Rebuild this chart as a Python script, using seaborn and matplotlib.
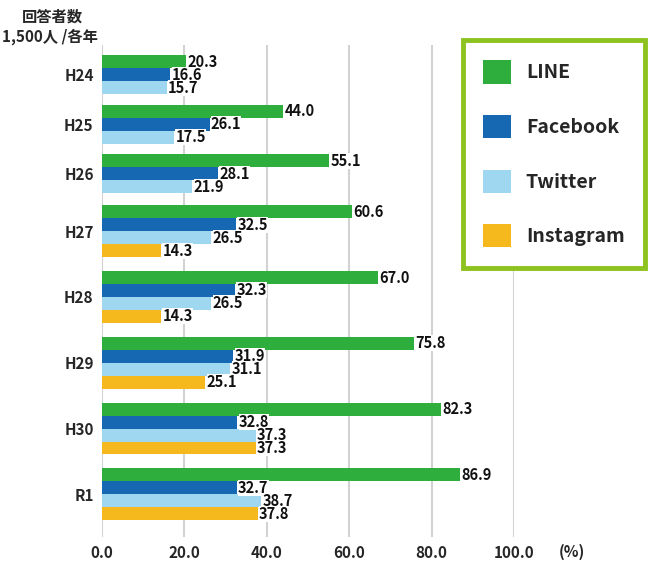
import matplotlib
matplotlib.use("Agg")
import matplotlib.pyplot as plt
import pandas as pd
import seaborn as sns

years = ["H24", "H25", "H26", "H27", "H28", "H29", "H30", "R1"]
series = ["LINE", "Facebook", "Twitter", "Instagram"]
line_vals = [20.3, 44.0, 55.1, 60.6, 67.0, 75.8, 82.3, 86.9]
facebook_vals = [16.6, 26.1, 28.1, 32.5, 32.3, 31.9, 32.8, 32.7]
twitter_vals = [15.7, 17.5, 21.9, 26.5, 26.5, 31.1, 37.3, 38.7]
instagram_vals = [None, None, None, 14.3, 14.3, 25.1, 37.3, 37.8]
x_ticks = [0, 20, 40, 60, 80, 100]

colors = {
    "LINE": "#2eae3c",
    "Facebook": "#1668b3",
    "Twitter": "#9fd6f0",
    "Instagram": "#f5b91e",
}

sns.set_theme(style="white")
plt.rcParams["font.family"] = ["Noto Sans CJK JP", "DejaVu Sans"]
plt.rcParams["font.weight"] = "bold"

# build long table, bars of one year stacked tightly, groups separated by a gap
gap = 0.27
rows = []
centers = []
cursor = 0.0
for i, year in enumerate(years):
    vals = [line_vals[i], facebook_vals[i], twitter_vals[i], instagram_vals[i]]
    present = [(s, v) for s, v in zip(series, vals) if v is not None]
    n = len(present)
    start = cursor + n * gap / 2
    for j, (s, v) in enumerate(present):
        rows.append({"pos": start + j + 0.5, "series": s, "value": v})
    centers.append(start + n / 2)
    cursor += n * (1 + gap)
df = pd.DataFrame(rows)

fig = plt.figure(figsize=(6.48, 5.61), dpi=100)
ax = fig.add_axes([102 / 648, 1 - 537 / 561, (514 - 102) / 648, (537 - 45) / 561])

sns.barplot(
    data=df,
    x="value",
    y="pos",
    hue="series",
    hue_order=series,
    palette=colors,
    saturation=1,
    orient="y",
    native_scale=True,
    dodge=False,
    width=1.0,
    errorbar=None,
    linewidth=0,
    ax=ax,
)

for cont in ax.containers:
    ax.bar_label(
        cont,
        fmt="%.1f",
        padding=1,
        fontsize=10.5,
        fontweight="bold",
        color="#111111",
        bbox=dict(facecolor="white", edgecolor="none", pad=0.0),
    )

ax.set_xlim(0, 100)
ax.set_ylim(cursor + 0.75, -0.4)
ax.set_xticks(x_ticks)
ax.set_xticklabels([f"{t:.1f}" for t in x_ticks], fontsize=11, fontweight="bold")
ax.set_yticks(centers)
ax.set_yticklabels(years, fontsize=11, fontweight="bold")
ax.tick_params(axis="x", length=0, pad=6)
ax.tick_params(axis="y", length=0, pad=6)
ax.set_xlabel("")
ax.set_ylabel("")
ax.xaxis.grid(True, color="#d2d2d2", linewidth=1.5)
ax.set_axisbelow(True)
sns.despine(ax=ax, left=True, bottom=True)

handles, labels = ax.get_legend_handles_labels()
leg = ax.legend(
    handles,
    labels,
    loc="upper right",
    bbox_to_anchor=(645 / 648, 1 - 40 / 561),
    bbox_transform=fig.transFigure,
    borderaxespad=0,
    prop={"weight": "bold", "size": 14},
    handlelength=1.45,
    handleheight=1.45,
    handletextpad=0.75,
    labelspacing=1.62,
    borderpad=1.05,
    fancybox=False,
    framealpha=1,
    edgecolor="#8dc21f",
)
leg.get_frame().set_linewidth(3.5)

fig.text(572 / 648, 1 - 552 / 561, "(%)", ha="center", va="center",
         fontsize=11, fontweight="bold")
fig.text(52 / 648, 1 - 17 / 561, "回答者数", ha="center", va="center",
         fontsize=11, fontweight="bold")
fig.text(50 / 648, 1 - 37 / 561, "1,500人 /各年", ha="center", va="center",
         fontsize=11, fontweight="bold")

fig.savefig("out.png", dpi=100)
